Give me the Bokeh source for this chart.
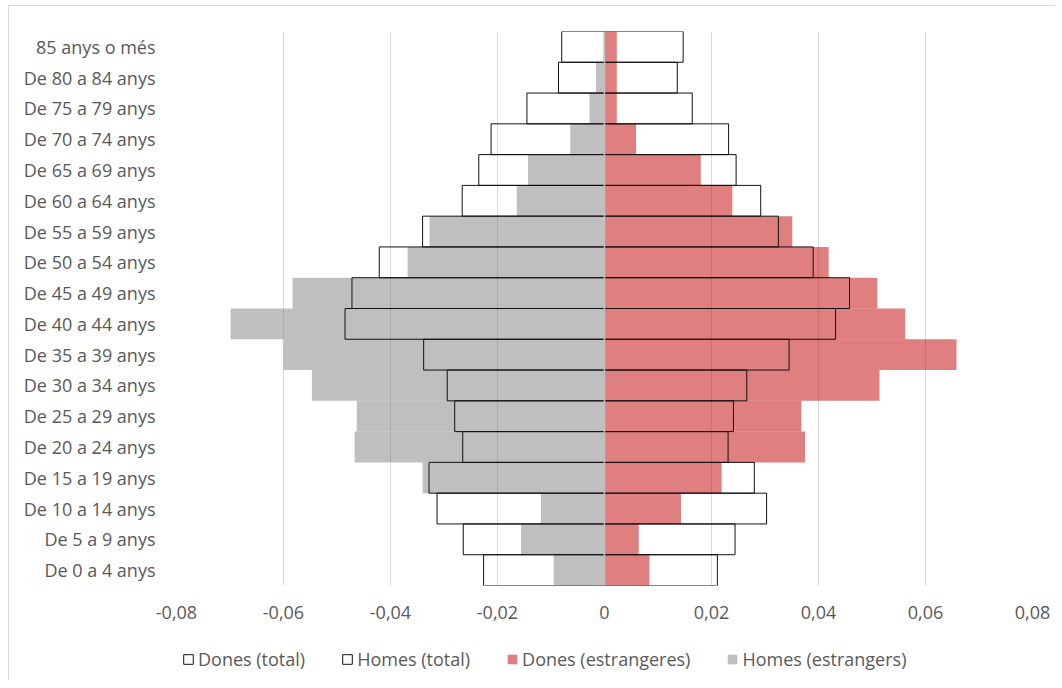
from bokeh.plotting import figure
from bokeh.layouts import column
from bokeh.models import (FactorRange, Range1d, FixedTicker, Span, Legend, LegendItem,
                          ColumnDataSource)
from bokeh.embed import file_html
from bokeh.resources import INLINE

# age groups, top to bottom as in the chart
groups = ["85 anys o més", "De 80 a 84 anys", "De 75 a 79 anys", "De 70 a 74 anys",
          "De 65 a 69 anys", "De 60 a 64 anys", "De 55 a 59 anys", "De 50 a 54 anys",
          "De 45 a 49 anys", "De 40 a 44 anys", "De 35 a 39 anys", "De 30 a 34 anys",
          "De 25 a 29 anys", "De 20 a 24 anys", "De 15 a 19 anys", "De 10 a 14 anys",
          "De 5 a 9 anys", "De 0 a 4 anys"]

homes_total = [-0.0080, -0.0086, -0.0145, -0.0212, -0.0235, -0.0266, -0.0340, -0.0421,
               -0.0472, -0.0485, -0.0338, -0.0294, -0.0280, -0.0265, -0.0328, -0.0313,
               -0.0264, -0.0226]
dones_total = [0.0147, 0.0136, 0.0164, 0.0232, 0.0246, 0.0292, 0.0325, 0.0390,
               0.0458, 0.0432, 0.0345, 0.0266, 0.0241, 0.0231, 0.0280, 0.0303,
               0.0244, 0.0211]
homes_estr = [-0.0002, -0.0016, -0.0028, -0.0064, -0.0143, -0.0164, -0.0327, -0.0368,
              -0.0583, -0.0699, -0.0600, -0.0547, -0.0463, -0.0467, -0.0340, -0.0119,
              -0.0156, -0.0095]
dones_estr = [0.0023, 0.0023, 0.0023, 0.0059, 0.0180, 0.0239, 0.0351, 0.0419,
              0.0510, 0.0562, 0.0658, 0.0514, 0.0368, 0.0375, 0.0219, 0.0143,
              0.0064, 0.0084]

x_ticks = [-0.08, -0.06, -0.04, -0.02, 0, 0.02, 0.04, 0.06, 0.08]
x_tick_labels = ["-0,08", "-0,06", "-0,04", "-0,02", "0", "0,02", "0,04", "0,06", "0,08"]

legend_labels = ["Dones (total)", "Homes (total)", "Dones (estrangeres)", "Homes (estrangers)"]

FONT = "Open Sans"
FS = "18px"
TXT = "#595959"
GREY = "#7F7F7F"
RED = "#C00000"
EDGE = "#111111"

src = ColumnDataSource(dict(g=groups, ht=homes_total, dt=dones_total, he=homes_estr, de=dones_estr))

p = figure(width=1046, height=634, output_backend="svg", toolbar_location=None,
           x_range=Range1d(-0.08, 0.08),
           y_range=FactorRange(factors=list(reversed(groups)), range_padding=0),
           min_border_left=167, min_border_right=23, min_border_top=25, min_border_bottom=55)
p.outline_line_color = None
p.background_fill_color = "white"
p.border_fill_color = "white"

p.hbar(y="g", left=0, right="he", height=1.0, source=src,
       fill_color=GREY, fill_alpha=0.5, line_color=None)
p.hbar(y="g", left=0, right="de", height=1.0, source=src,
       fill_color=RED, fill_alpha=0.5, line_color=None)
p.hbar(y="g", left=0, right="ht", height=1.0, source=src,
       fill_alpha=0, line_color=EDGE, line_width=1)
p.hbar(y="g", left=0, right="dt", height=1.0, source=src,
       fill_alpha=0, line_color=EDGE, line_width=1)

p.add_layout(Span(location=0, dimension="height", line_color="#BFBFBF", line_width=1.5, level="overlay"))

# grid
p.ygrid.grid_line_color = None
p.xgrid.grid_line_color = "#D9D9D9"
p.xgrid.grid_line_width = 1
p.xgrid.ticker = FixedTicker(ticks=x_ticks)

# x axis
xa = p.xaxis[0]
xa.ticker = FixedTicker(ticks=x_ticks)
xa.major_label_overrides = {t: l for t, l in zip(x_ticks, x_tick_labels)}
xa.axis_line_color = None
xa.major_tick_line_color = None
xa.minor_tick_line_color = None
xa.major_tick_out = 0
xa.major_label_standoff = 20
xa.major_label_text_font = FONT
xa.major_label_text_font_size = FS
xa.major_label_text_color = TXT

# y axis
ya = p.yaxis[0]
ya.axis_line_color = None
ya.major_tick_line_color = None
ya.major_tick_out = 0
ya.major_label_standoff = 21
ya.major_label_text_font = FONT
ya.major_label_text_font_size = FS
ya.major_label_text_color = TXT

# legend strip: same series as hidden renderers (only their legend glyphs show)
lg = figure(width=1046, height=40, output_backend="svg", toolbar_location=None,
            x_range=Range1d(-0.08, 0.08), y_range=FactorRange(factors=list(reversed(groups))),
            x_axis_location=None, y_axis_location=None,
            min_border_left=0, min_border_right=0, min_border_top=0, min_border_bottom=0)
lg.outline_line_color = None
lg.xgrid.grid_line_color = None
lg.ygrid.grid_line_color = None
l_dt = lg.hbar(y="g", left=0, right="dt", height=1, source=src,
               fill_alpha=0, line_color=EDGE, line_width=1, visible=False)
l_ht = lg.hbar(y="g", left=0, right="ht", height=1, source=src,
               fill_alpha=0, line_color=EDGE, line_width=1, visible=False)
l_de = lg.hbar(y="g", left=0, right="de", height=1, source=src,
               fill_color=RED, fill_alpha=0.5, line_color=None, visible=False)
l_he = lg.hbar(y="g", left=0, right="he", height=1, source=src,
               fill_color=GREY, fill_alpha=0.5, line_color=None, visible=False)

legend = Legend(items=[LegendItem(label=legend_labels[0], renderers=[l_dt]),
                       LegendItem(label=legend_labels[1], renderers=[l_ht]),
                       LegendItem(label=legend_labels[2], renderers=[l_de]),
                       LegendItem(label=legend_labels[3], renderers=[l_he])],
                orientation="horizontal", location=(6, 9), click_policy="none",
                glyph_width=12, glyph_height=12, label_standoff=4, spacing=36,
                padding=0, margin=0, border_line_color=None, background_fill_alpha=0,
                label_text_font=FONT, label_text_font_size=FS, label_text_color=TXT,
                label_height=12)
lg.add_layout(legend)

layout = column(p, lg, spacing=0, margin=(5, 0, 0, 8),
                styles={"border-top": "1px solid #D9D9D9", "border-left": "1px solid #D9D9D9"})
open("out.html", "w").write(file_html(layout, INLINE))
